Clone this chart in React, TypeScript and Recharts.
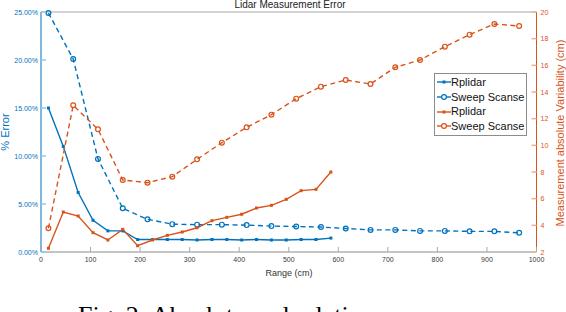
import React from 'react';
import { ComposedChart, Line, XAxis, YAxis, Legend } from 'recharts';

const BLUE = '#0072BD';
const ORANGE = '#D95319';
const FONT = '"Liberation Sans", Arial, Helvetica, sans-serif';

// ranges (cm) where each sensor was sampled
const rplidarRange = [15, 45, 75, 105, 135, 165, 195, 225, 255, 285, 315, 345, 375, 405, 435, 465, 495, 525, 555, 585];
const sweepRange = [15, 65, 115, 165, 215, 265, 315, 365, 415, 465, 515, 565, 615, 665, 715, 765, 815, 865, 915, 965];

// % error (left axis)
const rplidarError = [15.0, 11.0, 6.2, 3.3, 2.2, 2.2, 1.3, 1.3, 1.3, 1.3, 1.25, 1.3, 1.3, 1.25, 1.3, 1.25, 1.25, 1.3, 1.3, 1.45];
const sweepError = [24.9, 20.1, 9.7, 4.55, 3.4, 2.9, 2.85, 2.85, 2.8, 2.7, 2.65, 2.6, 2.45, 2.3, 2.3, 2.2, 2.2, 2.15, 2.15, 2.0];

// absolute variability in cm (right axis)
const rplidarVar = [2.28, 5.0, 4.7, 3.45, 2.9, 3.7, 2.47, 2.9, 3.25, 3.5, 3.82, 4.35, 4.6, 4.83, 5.3, 5.5, 5.95, 6.6, 6.7, 8.0];
const sweepVar = [3.78, 13.0, 11.2, 7.4, 7.2, 7.65, 8.95, 10.2, 11.35, 12.3, 13.5, 14.4, 14.9, 14.6, 15.85, 16.4, 17.4, 18.3, 19.1, 18.95];

const rangeTicks = [0, 100, 200, 300, 400, 500, 600, 700, 800, 900, 1000];
const errorTicks = [0, 5, 10, 15, 20, 25];
const variabilityTicks = [2, 4, 6, 8, 10, 12, 14, 16, 18, 20];

const legendItems = [
  { name: 'Rplidar', color: BLUE, dashed: false, marker: 'square' },
  { name: 'Sweep Scanse', color: BLUE, dashed: true, marker: 'circle' },
  { name: 'Rplidar', color: ORANGE, dashed: false, marker: 'square' },
  { name: 'Sweep Scanse', color: ORANGE, dashed: true, marker: 'circle' },
];

const toRows = (xs: number[], ys: number[]) => xs.map((range, i) => ({ range, value: ys[i] }));

const rplidarErrorData = toRows(rplidarRange, rplidarError);
const sweepErrorData = toRows(sweepRange, sweepError);
const rplidarVarData = toRows(rplidarRange, rplidarVar);
const sweepVarData = toRows(sweepRange, sweepVar);

const PLOT = { left: 41, right: 536.5, top: 12, bottom: 252 };

const squareDot = (color: string) => (props: any) => (
  <rect key={`s-${props.index}`} x={props.cx - 1.5} y={props.cy - 1.5} width={3} height={3} fill={color} />
);

const circleDot = (color: string) => (props: any) => (
  <circle key={`c-${props.index}`} cx={props.cx} cy={props.cy} r={2.4} fill="none" stroke={color} strokeWidth={1.2} />
);

const BottomTick = ({ x, payload }: any) => (
  <g>
    <line x1={x} x2={x} y1={PLOT.bottom} y2={PLOT.bottom - 5} stroke="#a8a8a8" />
    <text x={x} y={PLOT.bottom + 10} textAnchor="middle" fontSize={7} fill="#3a3a3a" fontFamily={FONT}>
      {payload.value}
    </text>
  </g>
);

const TopTick = ({ x }: any) => (
  <line x1={x} x2={x} y1={PLOT.top} y2={PLOT.top + 5} stroke="#a8a8a8" />
);

const LeftTick = ({ y, payload }: any) => (
  <g>
    <line x1={PLOT.left} x2={PLOT.left + 5} y1={y} y2={y} stroke="#9cc6e8" strokeWidth={1.5} />
    <text x={PLOT.left - 3} y={y + 2.5} textAnchor="end" fontSize={7} fill={BLUE} fontFamily={FONT}>
      {`${payload.value.toFixed(2)}%`}
    </text>
  </g>
);

const RightTick = ({ y, payload }: any) => (
  <g>
    <line x1={PLOT.right} x2={PLOT.right - 5} y1={y} y2={y} stroke="#f0b090" strokeWidth={1.5} />
    <text x={PLOT.right + 4} y={y + 2.5} textAnchor="start" fontSize={7} fill={ORANGE} fontFamily={FONT}>
      {payload.value}
    </text>
  </g>
);

const LegendBox = () => (
  <div
    style={{
      border: '1px solid #8c8c8c',
      background: '#fff',
      padding: '1px 1px 1px 1px',
      fontFamily: FONT,
      fontSize: 11,
      color: '#111',
      lineHeight: '14.7px',
      width: 89,
    }}
  >
    {legendItems.map((item, i) => (
      <div key={i} style={{ display: 'flex', alignItems: 'center', whiteSpace: 'nowrap' }}>
        <svg width={15} height={14} style={{ flex: 'none' }}>
          <line x1={1} x2={15} y1={7} y2={7} stroke={item.color} strokeWidth={1.4} />
          {item.marker === 'square' ? (
            <rect x={6.5} y={5.5} width={3} height={3} fill={item.color} />
          ) : (
            <circle cx={8} cy={7} r={2.4} fill="#fff" stroke={item.color} strokeWidth={1.2} />
          )}
        </svg>
        <span>{item.name}</span>
      </div>
    ))}
  </div>
);

export default function App() {
  return (
    <div style={{ position: 'absolute', left: 0, top: 0, width: 566, height: 312, overflow: 'hidden', background: '#fff' }}>
      <ComposedChart width={566} height={312} margin={{ top: 11, right: 0, bottom: 40, left: 0 }}>
        <XAxis
          xAxisId="bottom"
          type="number"
          dataKey="range"
          domain={[0, 1000]}
          ticks={rangeTicks}
          interval={0}
          height={20}
          tickLine={false}
          tick={<BottomTick />}
          axisLine={{ stroke: '#8a8a8a' }}
        />
        <XAxis
          xAxisId="top"
          orientation="top"
          type="number"
          dataKey="range"
          domain={[0, 1000]}
          ticks={rangeTicks}
          interval={0}
          height={1}
          tickLine={false}
          tick={<TopTick />}
          axisLine={{ stroke: '#c4c4c4', strokeWidth: 1.5 }}
        />
        <YAxis
          yAxisId="pct"
          type="number"
          domain={[0, 25]}
          ticks={errorTicks}
          interval={0}
          width={41}
          tickLine={false}
          tick={<LeftTick />}
          axisLine={{ stroke: BLUE }}
        />
        <YAxis
          yAxisId="cm"
          orientation="right"
          type="number"
          domain={[2, 20]}
          ticks={variabilityTicks}
          interval={0}
          width={29.5}
          tickLine={false}
          tick={<RightTick />}
          axisLine={{ stroke: ORANGE }}
        />
        <Line
          xAxisId="bottom"
          yAxisId="pct"
          data={sweepErrorData}
          dataKey="value"
          name="Sweep Scanse"
          stroke={BLUE}
          strokeWidth={1.4}
          strokeDasharray="5 3.5"
          dot={circleDot(BLUE)}
          isAnimationActive={false}
        />
        <Line
          xAxisId="bottom"
          yAxisId="pct"
          data={rplidarErrorData}
          dataKey="value"
          name="Rplidar"
          stroke={BLUE}
          strokeWidth={1.4}
          dot={squareDot(BLUE)}
          isAnimationActive={false}
        />
        <Line
          xAxisId="bottom"
          yAxisId="cm"
          data={rplidarVarData}
          dataKey="value"
          name="Rplidar"
          stroke={ORANGE}
          strokeWidth={1.4}
          dot={squareDot(ORANGE)}
          isAnimationActive={false}
        />
        <Line
          xAxisId="bottom"
          yAxisId="cm"
          data={sweepVarData}
          dataKey="value"
          name="Sweep Scanse"
          stroke={ORANGE}
          strokeWidth={1.4}
          strokeDasharray="5 3.5"
          dot={circleDot(ORANGE)}
          isAnimationActive={false}
        />
        <Legend
          layout="vertical"
          align="center"
          verticalAlign="middle"
          content={() => <LegendBox />}
          wrapperStyle={{ left: 434, top: 73, width: 'auto', height: 'auto' }}
        />
      </ComposedChart>
      <svg
        width={566}
        height={312}
        style={{ position: 'absolute', left: 0, top: 0, pointerEvents: 'none' }}
      >
        <text x={290} y={8} textAnchor="middle" fontSize={10} fill="#222" fontFamily={FONT}>
          Lidar Measurement Error
        </text>
        <text x={289} y={276} textAnchor="middle" fontSize={9} fill="#333" fontFamily={FONT}>
          Range (cm)
        </text>
        <text
          transform="translate(8.5,132) rotate(-90)"
          textAnchor="middle"
          fontSize={11}
          fill={BLUE}
          fontFamily={FONT}
        >
          % Error
        </text>
        <text
          transform="translate(563.5,133) rotate(-90)"
          textAnchor="middle"
          fontSize={11}
          fill={ORANGE}
          fontFamily={FONT}
        >
          Measurement absolute Variability (cm)
        </text>
        <text x={78} y={324} fontSize={26} fill="#000" fontFamily='"Liberation Serif", "Times New Roman", serif'>
          Fig. 2: Absolute and relative error
        </text>
      </svg>
    </div>
  );
}
